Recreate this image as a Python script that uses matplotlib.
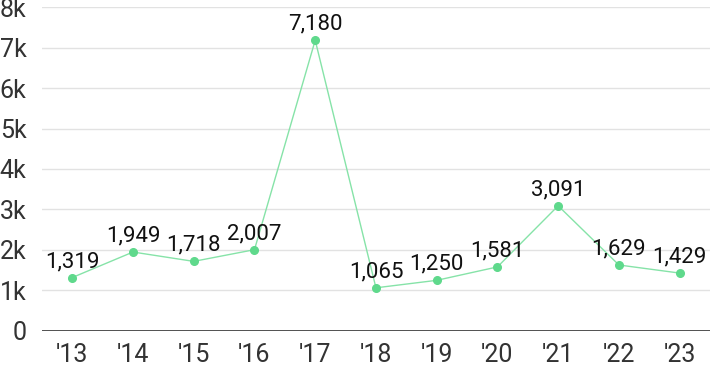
import matplotlib
matplotlib.use("Agg")
import matplotlib.pyplot as plt

years = ["'13", "'14", "'15", "'16", "'17", "'18", "'19", "'20", "'21", "'22", "'23"]
values = [1319, 1949, 1718, 2007, 7180, 1065, 1250, 1581, 3091, 1629, 1429]
y_ticks = [0, 1000, 2000, 3000, 4000, 5000, 6000, 7000, 8000]
y_tick_labels = ["0", "1k", "2k", "3k", "4k", "5k", "6k", "7k", "8k"]

plt.rcParams["font.family"] = ["Roboto", "DejaVu Sans"]

fig = plt.figure(figsize=(7.1, 3.71), dpi=100)
ax = fig.add_axes([0.059, 0.108, 0.941, 0.873])

x = list(range(len(values)))
ax.plot(x, values, color="#86e3a8", linewidth=1, zorder=3)
ax.plot(x, values, marker="o", markersize=5.5, linewidth=0, color="#5fd98c", zorder=4)

for xi, v in zip(x, values):
	ax.annotate(f"{v:,}", (xi, v), xytext=(0, 4), textcoords="offset points",
		ha="center", va="bottom", fontsize=16, color="#111111", zorder=5)

ax.set_xlim(-0.5, len(values) - 0.5)
ax.set_ylim(0, 8000)
ax.set_yticks(y_ticks)
ax.set_yticklabels(y_tick_labels)
ax.set_xticks(x)
ax.set_xticklabels(years)

for t in y_ticks[1:]:
	ax.axhline(t, color="#e2e2e2", linewidth=1, zorder=1)
ax.axhline(0, color="#333333", linewidth=1.2, zorder=2)

ax.tick_params(axis="both", length=0, labelsize=18, colors="#333333")
ax.tick_params(axis="y", pad=11)
ax.tick_params(axis="x", pad=9)

for side in ["right", "top", "left", "bottom"]:
	ax.spines[side].set_visible(False)

plt.savefig("out.png", dpi=100)
plt.close()
